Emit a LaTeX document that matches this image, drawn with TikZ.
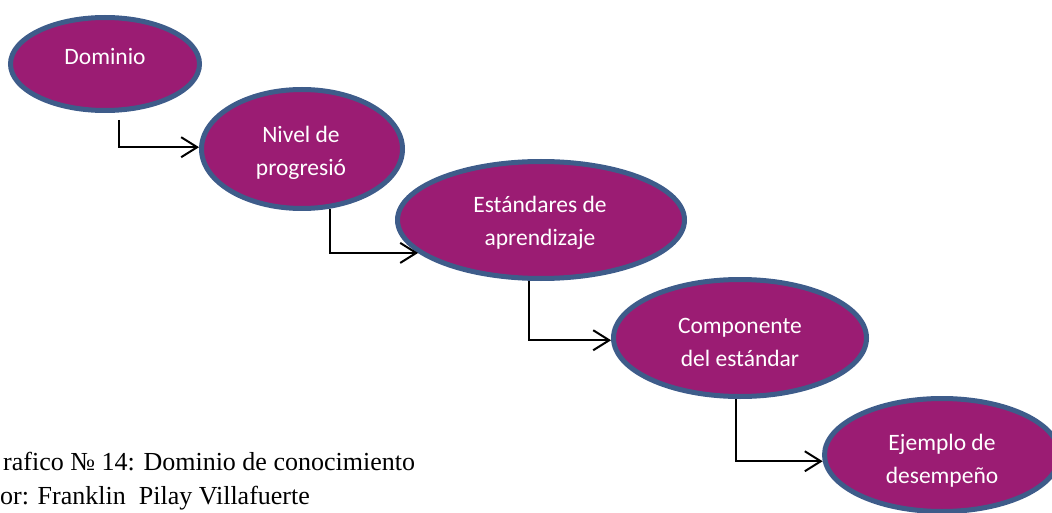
\documentclass[tikz,border=0pt]{standalone}
\usepackage{fontspec}
\setmainfont{Liberation Serif}
\newfontfamily\calibrifont{Carlito}
\usetikzlibrary{arrows.meta,shapes.geometric}
\definecolor{ovalfill}{RGB}{155,28,115}
\definecolor{ovalborder}{RGB}{62,92,138}
\tikzset{
  oval/.style={ellipse, draw=ovalborder, line width=5pt, fill=ovalfill, inner sep=0pt},
  ovaltext/.style={anchor=base, inner sep=0pt, text=white, font=\calibrifont\fontsize{23.5}{33}\selectfont},
  link/.style={draw=black, line width=2pt, -{Straight Barb[length=16pt,width=20pt,line width=2pt]}},
  caption/.style={anchor=base west, inner sep=0pt, font=\fontsize{26}{33}\selectfont}
}
\begin{document}
\begin{tikzpicture}[x=1pt,y=-1pt]
\useasboundingbox (0,0) rectangle (1052,513);
% ovals
\node[oval, minimum width=189pt, minimum height=93pt] (n1) at (105,64) {};
\node[oval, minimum width=201pt, minimum height=119pt] (n2) at (302,149) {};
\node[oval, minimum width=287pt, minimum height=117pt] (n3) at (541,220) {};
\node[oval, minimum width=253pt, minimum height=117pt] (n4) at (740,338) {};
\node[oval, minimum width=235pt, minimum height=113pt] (n5) at (942,455) {};
% texts
\node[ovaltext] (t1) at (105,65) {Dominio};
\node[ovaltext] (t2) at (301,143) {\begin{tabular}[t]{@{}c@{}}Nivel de\\progresió\end{tabular}};
\node[ovaltext] (t3) at (540,213) {\begin{tabular}[t]{@{}c@{}}Estándares de\\aprendizaje\end{tabular}};
\node[ovaltext] (t4) at (740,333) {\begin{tabular}[t]{@{}c@{}}Componente\\del estándar\end{tabular}};
\node[ovaltext] (t5) at (942,450) {\begin{tabular}[t]{@{}c@{}}Ejemplo de\\desempeño\end{tabular}};
% connectors
\coordinate (c1) at (119,120);
\draw[link] (c1) |- (n2.179);
\draw[link] (n2.295) |- (n3.195);
\draw[link] (n3.259) |- (n4.181);
\draw[link] (n4.266) |- (n5.183);
% caption
\node[caption] (cap1) at (3,470) {rafico № 14: Dominio de conocimiento};
\node[caption] (cap2) at (0,504) {or: Franklin\ \ Pilay Villafuerte};
\end{tikzpicture}
\end{document}
